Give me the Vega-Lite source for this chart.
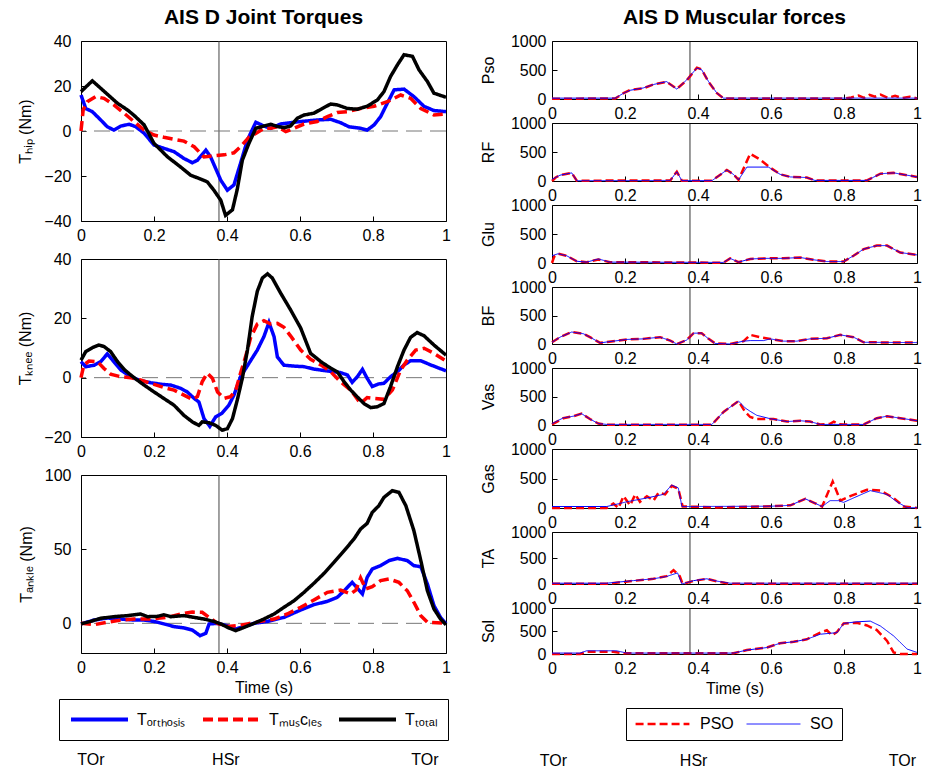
{
"$schema": "https://vega.github.io/schema/vega-lite/v6.json",
"padding": {"left": 17, "top": 6, "right": 5, "bottom": 5},
"config": {
  "font": "Liberation Sans",
  "view": {"stroke": "black", "strokeWidth": 1},
  "axis": {"grid": false, "domain": false, "tickColor": "black", "tickSize": -5, "labelFontSize": 16, "labelColor": "black", "titleFontSize": 16, "titleFontWeight": "normal", "titleColor": "black", "labelPadding": 11, "labelFlush": false},
  "axisY": {"labelPadding": 15, "titlePadding": 10},
  "axisX": {"titlePadding": 4},
  "title": {"fontSize": 21, "fontWeight": "bold", "color": "black", "anchor": "middle", "frame": "group", "offset": 5}
},
"datasets": {
  "ref": [{"t": 0.378, "z": 0}],
  "evL": [{"t": 0.027, "label": "TOr"}, {"t": 0.397, "label": "HSr"}, {"t": 0.942, "label": "TOr"}],
  "evR": [{"t": 0.004, "label": "TOr"}, {"t": 0.388, "label": "HSr"}, {"t": 0.96, "label": "TOr"}],
  "torque": [
{"p":"hip","s":"orthosis","t":0,"v":16},{"p":"hip","s":"orthosis","t":0.013,"v":10},{"p":"hip","s":"orthosis","t":0.031,"v":8.6},{"p":"hip","s":"orthosis","t":0.054,"v":4.9},{"p":"hip","s":"orthosis","t":0.072,"v":1.9},{"p":"hip","s":"orthosis","t":0.09,"v":0.4},{"p":"hip","s":"orthosis","t":0.109,"v":2.2},{"p":"hip","s":"orthosis","t":0.132,"v":3},{"p":"hip","s":"orthosis","t":0.15,"v":1.9},{"p":"hip","s":"orthosis","t":0.173,"v":-1},{"p":"hip","s":"orthosis","t":0.2,"v":-6.2},{"p":"hip","s":"orthosis","t":0.227,"v":-7.7},{"p":"hip","s":"orthosis","t":0.255,"v":-9.2},{"p":"hip","s":"orthosis","t":0.282,"v":-12.2},{"p":"hip","s":"orthosis","t":0.305,"v":-14.1},{"p":"hip","s":"orthosis","t":0.319,"v":-13},{"p":"hip","s":"orthosis","t":0.342,"v":-8.5},{"p":"hip","s":"orthosis","t":0.355,"v":-11.5},{"p":"hip","s":"orthosis","t":0.383,"v":-21.9},{"p":"hip","s":"orthosis","t":0.401,"v":-26.3},{"p":"hip","s":"orthosis","t":0.419,"v":-24},{"p":"hip","s":"orthosis","t":0.437,"v":-14.4},{"p":"hip","s":"orthosis","t":0.456,"v":-4},{"p":"hip","s":"orthosis","t":0.479,"v":3.9},{"p":"hip","s":"orthosis","t":0.501,"v":2.2},{"p":"hip","s":"orthosis","t":0.52,"v":1.2},{"p":"hip","s":"orthosis","t":0.547,"v":3.1},{"p":"hip","s":"orthosis","t":0.574,"v":3.7},{"p":"hip","s":"orthosis","t":0.602,"v":4.2},{"p":"hip","s":"orthosis","t":0.647,"v":4.9},{"p":"hip","s":"orthosis","t":0.684,"v":5.2},{"p":"hip","s":"orthosis","t":0.711,"v":3.7},{"p":"hip","s":"orthosis","t":0.734,"v":1.9},{"p":"hip","s":"orthosis","t":0.766,"v":1.2},{"p":"hip","s":"orthosis","t":0.784,"v":0.4},{"p":"hip","s":"orthosis","t":0.803,"v":2.7},{"p":"hip","s":"orthosis","t":0.821,"v":6.4},{"p":"hip","s":"orthosis","t":0.839,"v":12.3},{"p":"hip","s":"orthosis","t":0.858,"v":18.3},{"p":"hip","s":"orthosis","t":0.885,"v":18.6},{"p":"hip","s":"orthosis","t":0.912,"v":15.3},{"p":"hip","s":"orthosis","t":0.94,"v":10.9},{"p":"hip","s":"orthosis","t":0.967,"v":9.1},{"p":"hip","s":"orthosis","t":1,"v":8.6},
{"p":"hip","s":"muscles","t":0,"v":0},{"p":"hip","s":"muscles","t":0.006,"v":9.4},{"p":"hip","s":"muscles","t":0.017,"v":13},{"p":"hip","s":"muscles","t":0.04,"v":15.3},{"p":"hip","s":"muscles","t":0.063,"v":14.5},{"p":"hip","s":"muscles","t":0.09,"v":11.6},{"p":"hip","s":"muscles","t":0.118,"v":7.9},{"p":"hip","s":"muscles","t":0.145,"v":4.2},{"p":"hip","s":"muscles","t":0.173,"v":0.4},{"p":"hip","s":"muscles","t":0.2,"v":-1.8},{"p":"hip","s":"muscles","t":0.227,"v":-2.8},{"p":"hip","s":"muscles","t":0.255,"v":-3.7},{"p":"hip","s":"muscles","t":0.282,"v":-4.5},{"p":"hip","s":"muscles","t":0.31,"v":-7},{"p":"hip","s":"muscles","t":0.337,"v":-11.5},{"p":"hip","s":"muscles","t":0.364,"v":-11},{"p":"hip","s":"muscles","t":0.392,"v":-10.6},{"p":"hip","s":"muscles","t":0.419,"v":-9.7},{"p":"hip","s":"muscles","t":0.437,"v":-7},{"p":"hip","s":"muscles","t":0.46,"v":-2.8},{"p":"hip","s":"muscles","t":0.483,"v":-0.7},{"p":"hip","s":"muscles","t":0.501,"v":1.2},{"p":"hip","s":"muscles","t":0.52,"v":1.2},{"p":"hip","s":"muscles","t":0.538,"v":1.9},{"p":"hip","s":"muscles","t":0.561,"v":-0.3},{"p":"hip","s":"muscles","t":0.584,"v":1.2},{"p":"hip","s":"muscles","t":0.611,"v":3.1},{"p":"hip","s":"muscles","t":0.647,"v":4.2},{"p":"hip","s":"muscles","t":0.675,"v":6.4},{"p":"hip","s":"muscles","t":0.702,"v":8.2},{"p":"hip","s":"muscles","t":0.73,"v":8.6},{"p":"hip","s":"muscles","t":0.766,"v":10},{"p":"hip","s":"muscles","t":0.803,"v":11},{"p":"hip","s":"muscles","t":0.839,"v":13},{"p":"hip","s":"muscles","t":0.876,"v":16},{"p":"hip","s":"muscles","t":0.903,"v":14.5},{"p":"hip","s":"muscles","t":0.931,"v":10},{"p":"hip","s":"muscles","t":0.967,"v":7.1},{"p":"hip","s":"muscles","t":1,"v":7.5},
{"p":"hip","s":"Total","t":0,"v":17.5},{"p":"hip","s":"Total","t":0.031,"v":22.3},{"p":"hip","s":"Total","t":0.054,"v":19},{"p":"hip","s":"Total","t":0.1,"v":12.3},{"p":"hip","s":"Total","t":0.127,"v":9.4},{"p":"hip","s":"Total","t":0.145,"v":7},{"p":"hip","s":"Total","t":0.173,"v":2.7},{"p":"hip","s":"Total","t":0.2,"v":-5.5},{"p":"hip","s":"Total","t":0.237,"v":-11.5},{"p":"hip","s":"Total","t":0.273,"v":-16},{"p":"hip","s":"Total","t":0.3,"v":-19.6},{"p":"hip","s":"Total","t":0.328,"v":-21.4},{"p":"hip","s":"Total","t":0.346,"v":-22.6},{"p":"hip","s":"Total","t":0.364,"v":-26.3},{"p":"hip","s":"Total","t":0.383,"v":-30.8},{"p":"hip","s":"Total","t":0.396,"v":-37.5},{"p":"hip","s":"Total","t":0.415,"v":-35},{"p":"hip","s":"Total","t":0.428,"v":-26},{"p":"hip","s":"Total","t":0.442,"v":-13},{"p":"hip","s":"Total","t":0.46,"v":-5.5},{"p":"hip","s":"Total","t":0.479,"v":1.2},{"p":"hip","s":"Total","t":0.501,"v":2.2},{"p":"hip","s":"Total","t":0.52,"v":3},{"p":"hip","s":"Total","t":0.538,"v":2},{"p":"hip","s":"Total","t":0.556,"v":1.5},{"p":"hip","s":"Total","t":0.574,"v":2.2},{"p":"hip","s":"Total","t":0.593,"v":5.7},{"p":"hip","s":"Total","t":0.611,"v":7.1},{"p":"hip","s":"Total","t":0.638,"v":7.9},{"p":"hip","s":"Total","t":0.661,"v":10},{"p":"hip","s":"Total","t":0.684,"v":12},{"p":"hip","s":"Total","t":0.702,"v":11.6},{"p":"hip","s":"Total","t":0.73,"v":10},{"p":"hip","s":"Total","t":0.757,"v":9.7},{"p":"hip","s":"Total","t":0.784,"v":11},{"p":"hip","s":"Total","t":0.812,"v":13.8},{"p":"hip","s":"Total","t":0.83,"v":17.5},{"p":"hip","s":"Total","t":0.848,"v":24.2},{"p":"hip","s":"Total","t":0.867,"v":29.4},{"p":"hip","s":"Total","t":0.885,"v":33.9},{"p":"hip","s":"Total","t":0.908,"v":33.2},{"p":"hip","s":"Total","t":0.926,"v":27.2},{"p":"hip","s":"Total","t":0.949,"v":22},{"p":"hip","s":"Total","t":0.967,"v":16.8},{"p":"hip","s":"Total","t":1,"v":15},
{"p":"knee","s":"orthosis","t":0,"v":5.4},{"p":"knee","s":"orthosis","t":0.013,"v":3.7},{"p":"knee","s":"orthosis","t":0.036,"v":4.2},{"p":"knee","s":"orthosis","t":0.054,"v":5.4},{"p":"knee","s":"orthosis","t":0.072,"v":8},{"p":"knee","s":"orthosis","t":0.09,"v":5.4},{"p":"knee","s":"orthosis","t":0.109,"v":2.6},{"p":"knee","s":"orthosis","t":0.136,"v":0.3},{"p":"knee","s":"orthosis","t":0.163,"v":-1},{"p":"knee","s":"orthosis","t":0.191,"v":-1.7},{"p":"knee","s":"orthosis","t":0.218,"v":-2.2},{"p":"knee","s":"orthosis","t":0.246,"v":-2.5},{"p":"knee","s":"orthosis","t":0.273,"v":-3.6},{"p":"knee","s":"orthosis","t":0.291,"v":-4.8},{"p":"knee","s":"orthosis","t":0.31,"v":-7},{"p":"knee","s":"orthosis","t":0.323,"v":-8.2},{"p":"knee","s":"orthosis","t":0.337,"v":-13.8},{"p":"knee","s":"orthosis","t":0.353,"v":-16.4},{"p":"knee","s":"orthosis","t":0.369,"v":-13.2},{"p":"knee","s":"orthosis","t":0.387,"v":-11.9},{"p":"knee","s":"orthosis","t":0.405,"v":-9.3},{"p":"knee","s":"orthosis","t":0.419,"v":-5.9},{"p":"knee","s":"orthosis","t":0.437,"v":0.3},{"p":"knee","s":"orthosis","t":0.46,"v":4.8},{"p":"knee","s":"orthosis","t":0.483,"v":9.3},{"p":"knee","s":"orthosis","t":0.501,"v":13.8},{"p":"knee","s":"orthosis","t":0.515,"v":18.6},{"p":"knee","s":"orthosis","t":0.529,"v":13.8},{"p":"knee","s":"orthosis","t":0.538,"v":7},{"p":"knee","s":"orthosis","t":0.556,"v":4.2},{"p":"knee","s":"orthosis","t":0.584,"v":3.9},{"p":"knee","s":"orthosis","t":0.611,"v":3.7},{"p":"knee","s":"orthosis","t":0.638,"v":2.9},{"p":"knee","s":"orthosis","t":0.666,"v":2.4},{"p":"knee","s":"orthosis","t":0.693,"v":2},{"p":"knee","s":"orthosis","t":0.711,"v":1.7},{"p":"knee","s":"orthosis","t":0.73,"v":0.9},{"p":"knee","s":"orthosis","t":0.743,"v":-1.6},{"p":"knee","s":"orthosis","t":0.757,"v":0.3},{"p":"knee","s":"orthosis","t":0.771,"v":2.8},{"p":"knee","s":"orthosis","t":0.784,"v":-0.2},{"p":"knee","s":"orthosis","t":0.798,"v":-3},{"p":"knee","s":"orthosis","t":0.816,"v":-2.1},{"p":"knee","s":"orthosis","t":0.83,"v":-1.9},{"p":"knee","s":"orthosis","t":0.848,"v":0.3},{"p":"knee","s":"orthosis","t":0.867,"v":2},{"p":"knee","s":"orthosis","t":0.885,"v":4.3},{"p":"knee","s":"orthosis","t":0.903,"v":5.7},{"p":"knee","s":"orthosis","t":0.931,"v":5.7},{"p":"knee","s":"orthosis","t":0.958,"v":4.3},{"p":"knee","s":"orthosis","t":1,"v":2.3},
{"p":"knee","s":"muscles","t":0,"v":0},{"p":"knee","s":"muscles","t":0.008,"v":4.3},{"p":"knee","s":"muscles","t":0.022,"v":5.6},{"p":"knee","s":"muscles","t":0.045,"v":5.4},{"p":"knee","s":"muscles","t":0.063,"v":3.1},{"p":"knee","s":"muscles","t":0.081,"v":1.2},{"p":"knee","s":"muscles","t":0.109,"v":0.3},{"p":"knee","s":"muscles","t":0.136,"v":0},{"p":"knee","s":"muscles","t":0.163,"v":-0.8},{"p":"knee","s":"muscles","t":0.191,"v":-1.9},{"p":"knee","s":"muscles","t":0.227,"v":-3.3},{"p":"knee","s":"muscles","t":0.255,"v":-4.2},{"p":"knee","s":"muscles","t":0.282,"v":-5.9},{"p":"knee","s":"muscles","t":0.305,"v":-7.3},{"p":"knee","s":"muscles","t":0.319,"v":-6.4},{"p":"knee","s":"muscles","t":0.332,"v":-1.4},{"p":"knee","s":"muscles","t":0.346,"v":1.5},{"p":"knee","s":"muscles","t":0.36,"v":-0.2},{"p":"knee","s":"muscles","t":0.374,"v":-4.8},{"p":"knee","s":"muscles","t":0.392,"v":-7},{"p":"knee","s":"muscles","t":0.41,"v":-6.4},{"p":"knee","s":"muscles","t":0.424,"v":-4.2},{"p":"knee","s":"muscles","t":0.437,"v":1.5},{"p":"knee","s":"muscles","t":0.451,"v":7.1},{"p":"knee","s":"muscles","t":0.465,"v":13.6},{"p":"knee","s":"muscles","t":0.483,"v":18.1},{"p":"knee","s":"muscles","t":0.501,"v":19.2},{"p":"knee","s":"muscles","t":0.52,"v":18.1},{"p":"knee","s":"muscles","t":0.538,"v":18.3},{"p":"knee","s":"muscles","t":0.556,"v":17},{"p":"knee","s":"muscles","t":0.574,"v":14.1},{"p":"knee","s":"muscles","t":0.602,"v":9.3},{"p":"knee","s":"muscles","t":0.629,"v":6.2},{"p":"knee","s":"muscles","t":0.657,"v":4.3},{"p":"knee","s":"muscles","t":0.684,"v":2},{"p":"knee","s":"muscles","t":0.711,"v":-1.4},{"p":"knee","s":"muscles","t":0.739,"v":-4.2},{"p":"knee","s":"muscles","t":0.766,"v":-8.7},{"p":"knee","s":"muscles","t":0.784,"v":-6.7},{"p":"knee","s":"muscles","t":0.803,"v":-7},{"p":"knee","s":"muscles","t":0.83,"v":-7.3},{"p":"knee","s":"muscles","t":0.853,"v":-4.2},{"p":"knee","s":"muscles","t":0.876,"v":2.6},{"p":"knee","s":"muscles","t":0.894,"v":5.9},{"p":"knee","s":"muscles","t":0.917,"v":9.3},{"p":"knee","s":"muscles","t":0.94,"v":9.9},{"p":"knee","s":"muscles","t":0.967,"v":8.2},{"p":"knee","s":"muscles","t":1,"v":5.6},
{"p":"knee","s":"Total","t":0,"v":5.9},{"p":"knee","s":"Total","t":0.013,"v":8.8},{"p":"knee","s":"Total","t":0.031,"v":10.1},{"p":"knee","s":"Total","t":0.049,"v":11},{"p":"knee","s":"Total","t":0.063,"v":10.5},{"p":"knee","s":"Total","t":0.081,"v":8.8},{"p":"knee","s":"Total","t":0.1,"v":5.4},{"p":"knee","s":"Total","t":0.118,"v":2.8},{"p":"knee","s":"Total","t":0.136,"v":0.9},{"p":"knee","s":"Total","t":0.154,"v":-0.8},{"p":"knee","s":"Total","t":0.173,"v":-2.5},{"p":"knee","s":"Total","t":0.2,"v":-4.8},{"p":"knee","s":"Total","t":0.227,"v":-7},{"p":"knee","s":"Total","t":0.255,"v":-9.3},{"p":"knee","s":"Total","t":0.282,"v":-12.7},{"p":"knee","s":"Total","t":0.305,"v":-14.9},{"p":"knee","s":"Total","t":0.323,"v":-16.1},{"p":"knee","s":"Total","t":0.332,"v":-14.9},{"p":"knee","s":"Total","t":0.351,"v":-15.2},{"p":"knee","s":"Total","t":0.369,"v":-16.1},{"p":"knee","s":"Total","t":0.387,"v":-17.7},{"p":"knee","s":"Total","t":0.401,"v":-17.2},{"p":"knee","s":"Total","t":0.415,"v":-13.8},{"p":"knee","s":"Total","t":0.428,"v":-7.6},{"p":"knee","s":"Total","t":0.442,"v":-0.2},{"p":"knee","s":"Total","t":0.456,"v":9.3},{"p":"knee","s":"Total","t":0.469,"v":20.6},{"p":"knee","s":"Total","t":0.483,"v":29.1},{"p":"knee","s":"Total","t":0.497,"v":33.6},{"p":"knee","s":"Total","t":0.511,"v":35},{"p":"knee","s":"Total","t":0.524,"v":33.6},{"p":"knee","s":"Total","t":0.547,"v":28.5},{"p":"knee","s":"Total","t":0.574,"v":22.9},{"p":"knee","s":"Total","t":0.602,"v":16.7},{"p":"knee","s":"Total","t":0.629,"v":8.2},{"p":"knee","s":"Total","t":0.657,"v":5.4},{"p":"knee","s":"Total","t":0.684,"v":3.2},{"p":"knee","s":"Total","t":0.702,"v":2},{"p":"knee","s":"Total","t":0.721,"v":-1.4},{"p":"knee","s":"Total","t":0.739,"v":-4.2},{"p":"knee","s":"Total","t":0.757,"v":-6.5},{"p":"knee","s":"Total","t":0.775,"v":-8.7},{"p":"knee","s":"Total","t":0.794,"v":-10.1},{"p":"knee","s":"Total","t":0.812,"v":-9.8},{"p":"knee","s":"Total","t":0.83,"v":-8.7},{"p":"knee","s":"Total","t":0.848,"v":-3},{"p":"knee","s":"Total","t":0.867,"v":3.7},{"p":"knee","s":"Total","t":0.885,"v":9.3},{"p":"knee","s":"Total","t":0.903,"v":13.6},{"p":"knee","s":"Total","t":0.921,"v":15.2},{"p":"knee","s":"Total","t":0.94,"v":14.1},{"p":"knee","s":"Total","t":0.967,"v":11},{"p":"knee","s":"Total","t":1,"v":7.6},
{"p":"ankle","s":"orthosis","t":0,"v":-0.4},{"p":"ankle","s":"orthosis","t":0.036,"v":2.2},{"p":"ankle","s":"orthosis","t":0.072,"v":3.6},{"p":"ankle","s":"orthosis","t":0.109,"v":2.9},{"p":"ankle","s":"orthosis","t":0.145,"v":2.2},{"p":"ankle","s":"orthosis","t":0.173,"v":2.2},{"p":"ankle","s":"orthosis","t":0.2,"v":1.3},{"p":"ankle","s":"orthosis","t":0.227,"v":-0.4},{"p":"ankle","s":"orthosis","t":0.255,"v":-2.2},{"p":"ankle","s":"orthosis","t":0.282,"v":-3.1},{"p":"ankle","s":"orthosis","t":0.305,"v":-4.5},{"p":"ankle","s":"orthosis","t":0.326,"v":-8.3},{"p":"ankle","s":"orthosis","t":0.342,"v":-6.7},{"p":"ankle","s":"orthosis","t":0.351,"v":-0.4},{"p":"ankle","s":"orthosis","t":0.374,"v":0},{"p":"ankle","s":"orthosis","t":0.401,"v":-1.6},{"p":"ankle","s":"orthosis","t":0.424,"v":-3.8},{"p":"ankle","s":"orthosis","t":0.447,"v":-2.2},{"p":"ankle","s":"orthosis","t":0.474,"v":0},{"p":"ankle","s":"orthosis","t":0.511,"v":1.3},{"p":"ankle","s":"orthosis","t":0.556,"v":4},{"p":"ankle","s":"orthosis","t":0.602,"v":9},{"p":"ankle","s":"orthosis","t":0.638,"v":12.6},{"p":"ankle","s":"orthosis","t":0.675,"v":14.8},{"p":"ankle","s":"orthosis","t":0.702,"v":17.5},{"p":"ankle","s":"orthosis","t":0.721,"v":22},{"p":"ankle","s":"orthosis","t":0.743,"v":27.6},{"p":"ankle","s":"orthosis","t":0.757,"v":23.8},{"p":"ankle","s":"orthosis","t":0.771,"v":19.8},{"p":"ankle","s":"orthosis","t":0.784,"v":31},{"p":"ankle","s":"orthosis","t":0.798,"v":36.6},{"p":"ankle","s":"orthosis","t":0.821,"v":38.9},{"p":"ankle","s":"orthosis","t":0.844,"v":42.3},{"p":"ankle","s":"orthosis","t":0.867,"v":43.8},{"p":"ankle","s":"orthosis","t":0.894,"v":42.3},{"p":"ankle","s":"orthosis","t":0.912,"v":38.9},{"p":"ankle","s":"orthosis","t":0.931,"v":38.2},{"p":"ankle","s":"orthosis","t":0.949,"v":26.5},{"p":"ankle","s":"orthosis","t":0.967,"v":11.9},{"p":"ankle","s":"orthosis","t":0.985,"v":4},{"p":"ankle","s":"orthosis","t":1,"v":-0.4},
{"p":"ankle","s":"muscles","t":0,"v":0},{"p":"ankle","s":"muscles","t":0.036,"v":-0.9},{"p":"ankle","s":"muscles","t":0.072,"v":0.7},{"p":"ankle","s":"muscles","t":0.109,"v":2.2},{"p":"ankle","s":"muscles","t":0.145,"v":2.9},{"p":"ankle","s":"muscles","t":0.191,"v":2.9},{"p":"ankle","s":"muscles","t":0.237,"v":4},{"p":"ankle","s":"muscles","t":0.273,"v":6.3},{"p":"ankle","s":"muscles","t":0.305,"v":7.6},{"p":"ankle","s":"muscles","t":0.332,"v":7.4},{"p":"ankle","s":"muscles","t":0.351,"v":4},{"p":"ankle","s":"muscles","t":0.374,"v":0},{"p":"ankle","s":"muscles","t":0.401,"v":-2.2},{"p":"ankle","s":"muscles","t":0.428,"v":-1.6},{"p":"ankle","s":"muscles","t":0.456,"v":-0.4},{"p":"ankle","s":"muscles","t":0.492,"v":1.3},{"p":"ankle","s":"muscles","t":0.529,"v":2.9},{"p":"ankle","s":"muscles","t":0.565,"v":6.3},{"p":"ankle","s":"muscles","t":0.602,"v":10.8},{"p":"ankle","s":"muscles","t":0.638,"v":15.7},{"p":"ankle","s":"muscles","t":0.675,"v":20.9},{"p":"ankle","s":"muscles","t":0.711,"v":22.4},{"p":"ankle","s":"muscles","t":0.739,"v":19.8},{"p":"ankle","s":"muscles","t":0.753,"v":22.4},{"p":"ankle","s":"muscles","t":0.766,"v":30.6},{"p":"ankle","s":"muscles","t":0.78,"v":23.2},{"p":"ankle","s":"muscles","t":0.798,"v":24.7},{"p":"ankle","s":"muscles","t":0.821,"v":28.8},{"p":"ankle","s":"muscles","t":0.844,"v":29.9},{"p":"ankle","s":"muscles","t":0.871,"v":27.6},{"p":"ankle","s":"muscles","t":0.894,"v":22},{"p":"ankle","s":"muscles","t":0.912,"v":14.2},{"p":"ankle","s":"muscles","t":0.931,"v":5.2},{"p":"ankle","s":"muscles","t":0.949,"v":0.7},{"p":"ankle","s":"muscles","t":1,"v":0},
{"p":"ankle","s":"Total","t":0,"v":-0.4},{"p":"ankle","s":"Total","t":0.026,"v":1.3},{"p":"ankle","s":"Total","t":0.054,"v":3.4},{"p":"ankle","s":"Total","t":0.09,"v":4.5},{"p":"ankle","s":"Total","t":0.127,"v":5.2},{"p":"ankle","s":"Total","t":0.163,"v":6.3},{"p":"ankle","s":"Total","t":0.182,"v":4.5},{"p":"ankle","s":"Total","t":0.209,"v":4.7},{"p":"ankle","s":"Total","t":0.227,"v":5.8},{"p":"ankle","s":"Total","t":0.246,"v":4.5},{"p":"ankle","s":"Total","t":0.282,"v":5.2},{"p":"ankle","s":"Total","t":0.31,"v":4},{"p":"ankle","s":"Total","t":0.337,"v":2.9},{"p":"ankle","s":"Total","t":0.364,"v":1.3},{"p":"ankle","s":"Total","t":0.383,"v":-0.4},{"p":"ankle","s":"Total","t":0.405,"v":-3.1},{"p":"ankle","s":"Total","t":0.424,"v":-4.9},{"p":"ankle","s":"Total","t":0.447,"v":-2.7},{"p":"ankle","s":"Total","t":0.474,"v":0},{"p":"ankle","s":"Total","t":0.501,"v":2.9},{"p":"ankle","s":"Total","t":0.529,"v":6.3},{"p":"ankle","s":"Total","t":0.556,"v":10.8},{"p":"ankle","s":"Total","t":0.584,"v":15.3},{"p":"ankle","s":"Total","t":0.611,"v":20.9},{"p":"ankle","s":"Total","t":0.638,"v":27},{"p":"ankle","s":"Total","t":0.666,"v":33.7},{"p":"ankle","s":"Total","t":0.693,"v":41.1},{"p":"ankle","s":"Total","t":0.721,"v":49},{"p":"ankle","s":"Total","t":0.748,"v":56.9},{"p":"ankle","s":"Total","t":0.766,"v":63.6},{"p":"ankle","s":"Total","t":0.784,"v":67.4},{"p":"ankle","s":"Total","t":0.798,"v":74.8},{"p":"ankle","s":"Total","t":0.816,"v":79.3},{"p":"ankle","s":"Total","t":0.83,"v":84.9},{"p":"ankle","s":"Total","t":0.853,"v":89.4},{"p":"ankle","s":"Total","t":0.871,"v":88.3},{"p":"ankle","s":"Total","t":0.89,"v":79.3},{"p":"ankle","s":"Total","t":0.912,"v":62.5},{"p":"ankle","s":"Total","t":0.931,"v":42.3},{"p":"ankle","s":"Total","t":0.949,"v":22},{"p":"ankle","s":"Total","t":0.967,"v":9.7},{"p":"ankle","s":"Total","t":0.985,"v":2.9},{"p":"ankle","s":"Total","t":1,"v":-0.9}
  ],
  "force": [
{"m":"Pso","s":"PSO","t":0,"v":5},{"m":"Pso","s":"PSO","t":0.173,"v":8},{"m":"Pso","s":"PSO","t":0.196,"v":100},{"m":"Pso","s":"PSO","t":0.214,"v":155},{"m":"Pso","s":"PSO","t":0.25,"v":185},{"m":"Pso","s":"PSO","t":0.278,"v":250},{"m":"Pso","s":"PSO","t":0.314,"v":295},{"m":"Pso","s":"PSO","t":0.342,"v":175},{"m":"Pso","s":"PSO","t":0.369,"v":320},{"m":"Pso","s":"PSO","t":0.397,"v":540},{"m":"Pso","s":"PSO","t":0.41,"v":510},{"m":"Pso","s":"PSO","t":0.429,"v":295},{"m":"Pso","s":"PSO","t":0.452,"v":100},{"m":"Pso","s":"PSO","t":0.47,"v":10},{"m":"Pso","s":"PSO","t":0.8,"v":10},{"m":"Pso","s":"PSO","t":0.82,"v":25},{"m":"Pso","s":"PSO","t":0.84,"v":60},{"m":"Pso","s":"PSO","t":0.855,"v":20},{"m":"Pso","s":"PSO","t":0.87,"v":70},{"m":"Pso","s":"PSO","t":0.885,"v":40},{"m":"Pso","s":"PSO","t":0.9,"v":75},{"m":"Pso","s":"PSO","t":0.92,"v":20},{"m":"Pso","s":"PSO","t":0.94,"v":55},{"m":"Pso","s":"PSO","t":0.96,"v":15},{"m":"Pso","s":"PSO","t":0.98,"v":40},{"m":"Pso","s":"PSO","t":1,"v":10},
{"m":"Pso","s":"SO","t":0,"v":15},{"m":"Pso","s":"SO","t":0.173,"v":15},{"m":"Pso","s":"SO","t":0.196,"v":100},{"m":"Pso","s":"SO","t":0.214,"v":150},{"m":"Pso","s":"SO","t":0.25,"v":190},{"m":"Pso","s":"SO","t":0.278,"v":250},{"m":"Pso","s":"SO","t":0.314,"v":300},{"m":"Pso","s":"SO","t":0.342,"v":170},{"m":"Pso","s":"SO","t":0.369,"v":330},{"m":"Pso","s":"SO","t":0.397,"v":535},{"m":"Pso","s":"SO","t":0.41,"v":505},{"m":"Pso","s":"SO","t":0.429,"v":300},{"m":"Pso","s":"SO","t":0.452,"v":100},{"m":"Pso","s":"SO","t":0.47,"v":15},{"m":"Pso","s":"SO","t":1,"v":15},
{"m":"RF","s":"PSO","t":0,"v":0},{"m":"RF","s":"PSO","t":0.01,"v":60},{"m":"RF","s":"PSO","t":0.022,"v":100},{"m":"RF","s":"PSO","t":0.054,"v":140},{"m":"RF","s":"PSO","t":0.068,"v":5},{"m":"RF","s":"PSO","t":0.324,"v":10},{"m":"RF","s":"PSO","t":0.342,"v":160},{"m":"RF","s":"PSO","t":0.356,"v":5},{"m":"RF","s":"PSO","t":0.438,"v":5},{"m":"RF","s":"PSO","t":0.479,"v":190},{"m":"RF","s":"PSO","t":0.497,"v":115},{"m":"RF","s":"PSO","t":0.511,"v":20},{"m":"RF","s":"PSO","t":0.543,"v":470},{"m":"RF","s":"PSO","t":0.57,"v":370},{"m":"RF","s":"PSO","t":0.598,"v":230},{"m":"RF","s":"PSO","t":0.625,"v":115},{"m":"RF","s":"PSO","t":0.653,"v":70},{"m":"RF","s":"PSO","t":0.698,"v":60},{"m":"RF","s":"PSO","t":0.72,"v":10},{"m":"RF","s":"PSO","t":0.863,"v":10},{"m":"RF","s":"PSO","t":0.9,"v":125},{"m":"RF","s":"PSO","t":0.936,"v":140},{"m":"RF","s":"PSO","t":0.973,"v":100},{"m":"RF","s":"PSO","t":1,"v":70},
{"m":"RF","s":"SO","t":0,"v":30},{"m":"RF","s":"SO","t":0.022,"v":100},{"m":"RF","s":"SO","t":0.054,"v":140},{"m":"RF","s":"SO","t":0.068,"v":5},{"m":"RF","s":"SO","t":0.324,"v":10},{"m":"RF","s":"SO","t":0.342,"v":160},{"m":"RF","s":"SO","t":0.356,"v":5},{"m":"RF","s":"SO","t":0.438,"v":5},{"m":"RF","s":"SO","t":0.479,"v":190},{"m":"RF","s":"SO","t":0.497,"v":115},{"m":"RF","s":"SO","t":0.511,"v":20},{"m":"RF","s":"SO","t":0.534,"v":240},{"m":"RF","s":"SO","t":0.593,"v":240},{"m":"RF","s":"SO","t":0.625,"v":115},{"m":"RF","s":"SO","t":0.653,"v":70},{"m":"RF","s":"SO","t":0.698,"v":60},{"m":"RF","s":"SO","t":0.72,"v":10},{"m":"RF","s":"SO","t":0.863,"v":10},{"m":"RF","s":"SO","t":0.9,"v":125},{"m":"RF","s":"SO","t":0.936,"v":140},{"m":"RF","s":"SO","t":0.973,"v":100},{"m":"RF","s":"SO","t":1,"v":70},
{"m":"Glu","s":"PSO","t":0,"v":0},{"m":"Glu","s":"PSO","t":0.006,"v":110},{"m":"Glu","s":"PSO","t":0.017,"v":160},{"m":"Glu","s":"PSO","t":0.04,"v":125},{"m":"Glu","s":"PSO","t":0.068,"v":30},{"m":"Glu","s":"PSO","t":0.095,"v":15},{"m":"Glu","s":"PSO","t":0.127,"v":60},{"m":"Glu","s":"PSO","t":0.159,"v":15},{"m":"Glu","s":"PSO","t":0.47,"v":5},{"m":"Glu","s":"PSO","t":0.488,"v":80},{"m":"Glu","s":"PSO","t":0.511,"v":15},{"m":"Glu","s":"PSO","t":0.543,"v":70},{"m":"Glu","s":"PSO","t":0.589,"v":80},{"m":"Glu","s":"PSO","t":0.634,"v":80},{"m":"Glu","s":"PSO","t":0.68,"v":95},{"m":"Glu","s":"PSO","t":0.717,"v":55},{"m":"Glu","s":"PSO","t":0.753,"v":25},{"m":"Glu","s":"PSO","t":0.799,"v":25},{"m":"Glu","s":"PSO","t":0.826,"v":125},{"m":"Glu","s":"PSO","t":0.854,"v":240},{"m":"Glu","s":"PSO","t":0.89,"v":300},{"m":"Glu","s":"PSO","t":0.918,"v":300},{"m":"Glu","s":"PSO","t":0.954,"v":180},{"m":"Glu","s":"PSO","t":1,"v":140},
{"m":"Glu","s":"SO","t":0,"v":125},{"m":"Glu","s":"SO","t":0.017,"v":160},{"m":"Glu","s":"SO","t":0.04,"v":125},{"m":"Glu","s":"SO","t":0.068,"v":30},{"m":"Glu","s":"SO","t":0.095,"v":15},{"m":"Glu","s":"SO","t":0.127,"v":70},{"m":"Glu","s":"SO","t":0.159,"v":15},{"m":"Glu","s":"SO","t":0.47,"v":10},{"m":"Glu","s":"SO","t":0.488,"v":80},{"m":"Glu","s":"SO","t":0.511,"v":15},{"m":"Glu","s":"SO","t":0.543,"v":70},{"m":"Glu","s":"SO","t":0.589,"v":80},{"m":"Glu","s":"SO","t":0.634,"v":80},{"m":"Glu","s":"SO","t":0.68,"v":95},{"m":"Glu","s":"SO","t":0.717,"v":55},{"m":"Glu","s":"SO","t":0.753,"v":25},{"m":"Glu","s":"SO","t":0.799,"v":25},{"m":"Glu","s":"SO","t":0.826,"v":125},{"m":"Glu","s":"SO","t":0.854,"v":240},{"m":"Glu","s":"SO","t":0.89,"v":300},{"m":"Glu","s":"SO","t":0.918,"v":300},{"m":"Glu","s":"SO","t":0.954,"v":180},{"m":"Glu","s":"SO","t":1,"v":140},
{"m":"BF","s":"PSO","t":0,"v":30},{"m":"BF","s":"PSO","t":0.022,"v":120},{"m":"BF","s":"PSO","t":0.054,"v":210},{"m":"BF","s":"PSO","t":0.086,"v":180},{"m":"BF","s":"PSO","t":0.104,"v":120},{"m":"BF","s":"PSO","t":0.132,"v":20},{"m":"BF","s":"PSO","t":0.168,"v":50},{"m":"BF","s":"PSO","t":0.205,"v":80},{"m":"BF","s":"PSO","t":0.25,"v":90},{"m":"BF","s":"PSO","t":0.296,"v":120},{"m":"BF","s":"PSO","t":0.324,"v":60},{"m":"BF","s":"PSO","t":0.342,"v":0},{"m":"BF","s":"PSO","t":0.369,"v":70},{"m":"BF","s":"PSO","t":0.388,"v":190},{"m":"BF","s":"PSO","t":0.41,"v":190},{"m":"BF","s":"PSO","t":0.429,"v":90},{"m":"BF","s":"PSO","t":0.447,"v":10},{"m":"BF","s":"PSO","t":0.488,"v":0},{"m":"BF","s":"PSO","t":0.525,"v":50},{"m":"BF","s":"PSO","t":0.543,"v":160},{"m":"BF","s":"PSO","t":0.57,"v":120},{"m":"BF","s":"PSO","t":0.598,"v":90},{"m":"BF","s":"PSO","t":0.634,"v":50},{"m":"BF","s":"PSO","t":0.671,"v":50},{"m":"BF","s":"PSO","t":0.707,"v":90},{"m":"BF","s":"PSO","t":0.753,"v":100},{"m":"BF","s":"PSO","t":0.79,"v":160},{"m":"BF","s":"PSO","t":0.826,"v":120},{"m":"BF","s":"PSO","t":0.854,"v":30},{"m":"BF","s":"PSO","t":1,"v":25},
{"m":"BF","s":"SO","t":0,"v":30},{"m":"BF","s":"SO","t":0.022,"v":120},{"m":"BF","s":"SO","t":0.054,"v":210},{"m":"BF","s":"SO","t":0.086,"v":180},{"m":"BF","s":"SO","t":0.104,"v":120},{"m":"BF","s":"SO","t":0.132,"v":20},{"m":"BF","s":"SO","t":0.168,"v":50},{"m":"BF","s":"SO","t":0.205,"v":80},{"m":"BF","s":"SO","t":0.25,"v":90},{"m":"BF","s":"SO","t":0.296,"v":120},{"m":"BF","s":"SO","t":0.324,"v":60},{"m":"BF","s":"SO","t":0.342,"v":0},{"m":"BF","s":"SO","t":0.369,"v":70},{"m":"BF","s":"SO","t":0.388,"v":190},{"m":"BF","s":"SO","t":0.41,"v":190},{"m":"BF","s":"SO","t":0.429,"v":90},{"m":"BF","s":"SO","t":0.447,"v":10},{"m":"BF","s":"SO","t":0.488,"v":0},{"m":"BF","s":"SO","t":0.525,"v":50},{"m":"BF","s":"SO","t":0.543,"v":60},{"m":"BF","s":"SO","t":0.58,"v":60},{"m":"BF","s":"SO","t":0.598,"v":90},{"m":"BF","s":"SO","t":0.634,"v":50},{"m":"BF","s":"SO","t":0.671,"v":50},{"m":"BF","s":"SO","t":0.707,"v":90},{"m":"BF","s":"SO","t":0.753,"v":100},{"m":"BF","s":"SO","t":0.79,"v":160},{"m":"BF","s":"SO","t":0.826,"v":120},{"m":"BF","s":"SO","t":0.854,"v":30},{"m":"BF","s":"SO","t":1,"v":25},
{"m":"Vas","s":"PSO","t":0,"v":10},{"m":"Vas","s":"PSO","t":0.031,"v":120},{"m":"Vas","s":"PSO","t":0.059,"v":155},{"m":"Vas","s":"PSO","t":0.081,"v":200},{"m":"Vas","s":"PSO","t":0.104,"v":105},{"m":"Vas","s":"PSO","t":0.127,"v":25},{"m":"Vas","s":"PSO","t":0.15,"v":5},{"m":"Vas","s":"PSO","t":0.438,"v":5},{"m":"Vas","s":"PSO","t":0.47,"v":230},{"m":"Vas","s":"PSO","t":0.497,"v":355},{"m":"Vas","s":"PSO","t":0.511,"v":420},{"m":"Vas","s":"PSO","t":0.529,"v":230},{"m":"Vas","s":"PSO","t":0.543,"v":140},{"m":"Vas","s":"PSO","t":0.561,"v":105},{"m":"Vas","s":"PSO","t":0.607,"v":105},{"m":"Vas","s":"PSO","t":0.644,"v":60},{"m":"Vas","s":"PSO","t":0.68,"v":75},{"m":"Vas","s":"PSO","t":0.707,"v":60},{"m":"Vas","s":"PSO","t":0.735,"v":10},{"m":"Vas","s":"PSO","t":0.762,"v":20},{"m":"Vas","s":"PSO","t":0.772,"v":60},{"m":"Vas","s":"PSO","t":0.785,"v":15},{"m":"Vas","s":"PSO","t":0.799,"v":10},{"m":"Vas","s":"PSO","t":0.854,"v":10},{"m":"Vas","s":"PSO","t":0.89,"v":120},{"m":"Vas","s":"PSO","t":0.918,"v":155},{"m":"Vas","s":"PSO","t":0.954,"v":120},{"m":"Vas","s":"PSO","t":1,"v":75},
{"m":"Vas","s":"SO","t":0,"v":25},{"m":"Vas","s":"SO","t":0.031,"v":125},{"m":"Vas","s":"SO","t":0.059,"v":155},{"m":"Vas","s":"SO","t":0.081,"v":200},{"m":"Vas","s":"SO","t":0.104,"v":105},{"m":"Vas","s":"SO","t":0.127,"v":25},{"m":"Vas","s":"SO","t":0.15,"v":10},{"m":"Vas","s":"SO","t":0.438,"v":10},{"m":"Vas","s":"SO","t":0.47,"v":230},{"m":"Vas","s":"SO","t":0.497,"v":355},{"m":"Vas","s":"SO","t":0.511,"v":420},{"m":"Vas","s":"SO","t":0.529,"v":300},{"m":"Vas","s":"SO","t":0.543,"v":240},{"m":"Vas","s":"SO","t":0.561,"v":170},{"m":"Vas","s":"SO","t":0.598,"v":110},{"m":"Vas","s":"SO","t":0.644,"v":60},{"m":"Vas","s":"SO","t":0.68,"v":75},{"m":"Vas","s":"SO","t":0.707,"v":60},{"m":"Vas","s":"SO","t":0.735,"v":10},{"m":"Vas","s":"SO","t":0.854,"v":10},{"m":"Vas","s":"SO","t":0.89,"v":120},{"m":"Vas","s":"SO","t":0.918,"v":155},{"m":"Vas","s":"SO","t":0.954,"v":120},{"m":"Vas","s":"SO","t":1,"v":75},
{"m":"Gas","s":"PSO","t":0,"v":0},{"m":"Gas","s":"PSO","t":0.15,"v":0},{"m":"Gas","s":"PSO","t":0.168,"v":75},{"m":"Gas","s":"PSO","t":0.182,"v":0},{"m":"Gas","s":"PSO","t":0.196,"v":200},{"m":"Gas","s":"PSO","t":0.214,"v":45},{"m":"Gas","s":"PSO","t":0.228,"v":230},{"m":"Gas","s":"PSO","t":0.241,"v":105},{"m":"Gas","s":"PSO","t":0.26,"v":200},{"m":"Gas","s":"PSO","t":0.278,"v":125},{"m":"Gas","s":"PSO","t":0.292,"v":260},{"m":"Gas","s":"PSO","t":0.31,"v":230},{"m":"Gas","s":"PSO","t":0.328,"v":375},{"m":"Gas","s":"PSO","t":0.346,"v":325},{"m":"Gas","s":"PSO","t":0.358,"v":25},{"m":"Gas","s":"PSO","t":0.4,"v":20},{"m":"Gas","s":"PSO","t":0.45,"v":10},{"m":"Gas","s":"PSO","t":0.5,"v":15},{"m":"Gas","s":"PSO","t":0.6,"v":30},{"m":"Gas","s":"PSO","t":0.653,"v":45},{"m":"Gas","s":"PSO","t":0.694,"v":155},{"m":"Gas","s":"PSO","t":0.721,"v":80},{"m":"Gas","s":"PSO","t":0.74,"v":25},{"m":"Gas","s":"PSO","t":0.769,"v":450},{"m":"Gas","s":"PSO","t":0.79,"v":125},{"m":"Gas","s":"PSO","t":0.817,"v":200},{"m":"Gas","s":"PSO","t":0.863,"v":310},{"m":"Gas","s":"PSO","t":0.9,"v":295},{"m":"Gas","s":"PSO","t":0.936,"v":170},{"m":"Gas","s":"PSO","t":0.963,"v":25},{"m":"Gas","s":"PSO","t":1,"v":0},
{"m":"Gas","s":"SO","t":0,"v":25},{"m":"Gas","s":"SO","t":0.15,"v":25},{"m":"Gas","s":"SO","t":0.205,"v":105},{"m":"Gas","s":"SO","t":0.26,"v":170},{"m":"Gas","s":"SO","t":0.305,"v":230},{"m":"Gas","s":"SO","t":0.328,"v":390},{"m":"Gas","s":"SO","t":0.346,"v":340},{"m":"Gas","s":"SO","t":0.356,"v":25},{"m":"Gas","s":"SO","t":0.6,"v":30},{"m":"Gas","s":"SO","t":0.653,"v":45},{"m":"Gas","s":"SO","t":0.694,"v":155},{"m":"Gas","s":"SO","t":0.721,"v":80},{"m":"Gas","s":"SO","t":0.74,"v":25},{"m":"Gas","s":"SO","t":0.762,"v":125},{"m":"Gas","s":"SO","t":0.785,"v":125},{"m":"Gas","s":"SO","t":0.799,"v":95},{"m":"Gas","s":"SO","t":0.826,"v":170},{"m":"Gas","s":"SO","t":0.872,"v":295},{"m":"Gas","s":"SO","t":0.918,"v":230},{"m":"Gas","s":"SO","t":0.945,"v":105},{"m":"Gas","s":"SO","t":0.973,"v":5},{"m":"Gas","s":"SO","t":1,"v":5},
{"m":"TA","s":"PSO","t":0,"v":5},{"m":"TA","s":"PSO","t":0.15,"v":5},{"m":"TA","s":"PSO","t":0.223,"v":60},{"m":"TA","s":"PSO","t":0.278,"v":100},{"m":"TA","s":"PSO","t":0.314,"v":150},{"m":"TA","s":"PSO","t":0.333,"v":267},{"m":"TA","s":"PSO","t":0.35,"v":150},{"m":"TA","s":"PSO","t":0.358,"v":0},{"m":"TA","s":"PSO","t":0.388,"v":60},{"m":"TA","s":"PSO","t":0.424,"v":100},{"m":"TA","s":"PSO","t":0.452,"v":50},{"m":"TA","s":"PSO","t":0.488,"v":5},{"m":"TA","s":"PSO","t":1,"v":5},
{"m":"TA","s":"SO","t":0,"v":15},{"m":"TA","s":"SO","t":0.15,"v":15},{"m":"TA","s":"SO","t":0.223,"v":65},{"m":"TA","s":"SO","t":0.278,"v":100},{"m":"TA","s":"SO","t":0.314,"v":145},{"m":"TA","s":"SO","t":0.344,"v":213},{"m":"TA","s":"SO","t":0.356,"v":0},{"m":"TA","s":"SO","t":0.388,"v":65},{"m":"TA","s":"SO","t":0.424,"v":100},{"m":"TA","s":"SO","t":0.452,"v":55},{"m":"TA","s":"SO","t":0.488,"v":15},{"m":"TA","s":"SO","t":1,"v":15},
{"m":"Sol","s":"PSO","t":0,"v":0},{"m":"Sol","s":"PSO","t":0.077,"v":0},{"m":"Sol","s":"PSO","t":0.095,"v":50},{"m":"Sol","s":"PSO","t":0.168,"v":50},{"m":"Sol","s":"PSO","t":0.196,"v":15},{"m":"Sol","s":"PSO","t":0.497,"v":15},{"m":"Sol","s":"PSO","t":0.534,"v":85},{"m":"Sol","s":"PSO","t":0.589,"v":140},{"m":"Sol","s":"PSO","t":0.625,"v":235},{"m":"Sol","s":"PSO","t":0.662,"v":265},{"m":"Sol","s":"PSO","t":0.698,"v":320},{"m":"Sol","s":"PSO","t":0.735,"v":465},{"m":"Sol","s":"PSO","t":0.753,"v":515},{"m":"Sol","s":"PSO","t":0.767,"v":407},{"m":"Sol","s":"PSO","t":0.781,"v":480},{"m":"Sol","s":"PSO","t":0.799,"v":665},{"m":"Sol","s":"PSO","t":0.835,"v":680},{"m":"Sol","s":"PSO","t":0.863,"v":620},{"m":"Sol","s":"PSO","t":0.89,"v":520},{"m":"Sol","s":"PSO","t":0.918,"v":285},{"m":"Sol","s":"PSO","t":0.936,"v":35},{"m":"Sol","s":"PSO","t":0.954,"v":0},{"m":"Sol","s":"PSO","t":1,"v":0},
{"m":"Sol","s":"SO","t":0,"v":20},{"m":"Sol","s":"SO","t":0.077,"v":20},{"m":"Sol","s":"SO","t":0.095,"v":70},{"m":"Sol","s":"SO","t":0.177,"v":70},{"m":"Sol","s":"SO","t":0.205,"v":20},{"m":"Sol","s":"SO","t":0.497,"v":20},{"m":"Sol","s":"SO","t":0.534,"v":85},{"m":"Sol","s":"SO","t":0.589,"v":140},{"m":"Sol","s":"SO","t":0.625,"v":235},{"m":"Sol","s":"SO","t":0.662,"v":265},{"m":"Sol","s":"SO","t":0.698,"v":320},{"m":"Sol","s":"SO","t":0.735,"v":430},{"m":"Sol","s":"SO","t":0.762,"v":450},{"m":"Sol","s":"SO","t":0.781,"v":465},{"m":"Sol","s":"SO","t":0.799,"v":665},{"m":"Sol","s":"SO","t":0.835,"v":700},{"m":"Sol","s":"SO","t":0.872,"v":715},{"m":"Sol","s":"SO","t":0.9,"v":607},{"m":"Sol","s":"SO","t":0.936,"v":393},{"m":"Sol","s":"SO","t":0.973,"v":107},{"m":"Sol","s":"SO","t":1,"v":35}
  ]
},
"hconcat": [
 {
  "spacing": 38,
  "bounds": "flush",
  "resolve": {"scale": {"color": "independent", "strokeDash": "independent"}},
  "vconcat": [
   {"width": 365, "height": 180, "title": {"text": "AIS D Joint Torques"}, "layer": [
     {"data": {"name": "ref"}, "mark": {"type": "rule", "color": "#444", "strokeWidth": 1}, "encoding": {"x": {"field": "t", "type": "quantitative", "scale": {"domain": [0, 1], "nice": false}, "axis": {"values": [0, 0.2, 0.4, 0.6, 0.8, 1], "format": "~g", "title": null}}}},
     {"data": {"name": "ref"}, "mark": {"type": "rule", "color": "#777", "strokeWidth": 1, "strokeDash": [16, 8]}, "encoding": {"y": {"field": "z", "type": "quantitative", "scale": {"domain": [-40, 40], "nice": false}, "axis": {"values": [-40, -20, 0, 20, 40], "title": "Tₕᵢₚ (Nm)"}}}},
     {"data": {"name": "torque"}, "transform": [{"filter": "datum.p === 'hip'"}], "mark": {"type": "line", "strokeWidth": 3.5},
      "encoding": {
       "x": {"field": "t", "type": "quantitative", "scale": {"domain": [0, 1], "nice": false}, "axis": {"values": [0, 0.2, 0.4, 0.6, 0.8, 1], "format": "~g", "title": null}},
       "y": {"field": "v", "type": "quantitative", "scale": {"domain": [-40, 40], "nice": false}, "axis": {"values": [-40, -20, 0, 20, 40], "title": "Tₕᵢₚ (Nm)"}},
       "color": {"field": "s", "type": "nominal", "scale": {"domain": ["orthosis", "muscles", "Total"], "range": ["#0000ff", "#ff0000", "#000000"]}, "legend": null},
       "strokeDash": {"field": "s", "type": "nominal", "scale": {"domain": ["orthosis", "muscles", "Total"], "range": [[1, 0], [10, 5], [1, 0]]}, "legend": null}
      }}
   ]},
   {"width": 365, "height": 178, "layer": [
     {"data": {"name": "ref"}, "mark": {"type": "rule", "color": "#444", "strokeWidth": 1}, "encoding": {"x": {"field": "t", "type": "quantitative", "scale": {"domain": [0, 1], "nice": false}, "axis": {"values": [0, 0.2, 0.4, 0.6, 0.8, 1], "format": "~g", "title": null}}}},
     {"data": {"name": "ref"}, "mark": {"type": "rule", "color": "#777", "strokeWidth": 1, "strokeDash": [16, 8]}, "encoding": {"y": {"field": "z", "type": "quantitative", "scale": {"domain": [-20, 40], "nice": false}, "axis": {"values": [-20, 0, 20, 40], "title": "Tₖₙₑₑ (Nm)"}}}},
     {"data": {"name": "torque"}, "transform": [{"filter": "datum.p === 'knee'"}], "mark": {"type": "line", "strokeWidth": 3.5},
      "encoding": {
       "x": {"field": "t", "type": "quantitative", "scale": {"domain": [0, 1], "nice": false}, "axis": {"values": [0, 0.2, 0.4, 0.6, 0.8, 1], "format": "~g", "title": null}},
       "y": {"field": "v", "type": "quantitative", "scale": {"domain": [-20, 40], "nice": false}, "axis": {"values": [-20, 0, 20, 40], "title": "Tₖₙₑₑ (Nm)"}},
       "color": {"field": "s", "type": "nominal", "scale": {"domain": ["orthosis", "muscles", "Total"], "range": ["#0000ff", "#ff0000", "#000000"]}, "legend": null},
       "strokeDash": {"field": "s", "type": "nominal", "scale": {"domain": ["orthosis", "muscles", "Total"], "range": [[1, 0], [10, 5], [1, 0]]}, "legend": null}
      }}
   ]},
   {"width": 365, "height": 178, "layer": [
     {"data": {"name": "ref"}, "mark": {"type": "rule", "color": "#444", "strokeWidth": 1}, "encoding": {"x": {"field": "t", "type": "quantitative", "scale": {"domain": [0, 1], "nice": false}, "axis": {"values": [0, 0.2, 0.4, 0.6, 0.8, 1], "format": "~g", "title": "Time (s)"}}}},
     {"data": {"name": "ref"}, "mark": {"type": "rule", "color": "#777", "strokeWidth": 1, "strokeDash": [16, 8]}, "encoding": {"y": {"field": "z", "type": "quantitative", "scale": {"domain": [-20, 100], "nice": false}, "axis": {"values": [0, 50, 100], "title": "Tₐₙₖₗₑ (Nm)"}}}},
     {"data": {"name": "torque"}, "transform": [{"filter": "datum.p === 'ankle'"}], "mark": {"type": "line", "strokeWidth": 3.5},
      "encoding": {
       "x": {"field": "t", "type": "quantitative", "scale": {"domain": [0, 1], "nice": false}, "axis": {"values": [0, 0.2, 0.4, 0.6, 0.8, 1], "format": "~g", "title": "Time (s)"}},
       "y": {"field": "v", "type": "quantitative", "scale": {"domain": [-20, 100], "nice": false}, "axis": {"values": [0, 50, 100], "title": "Tₐₙₖₗₑ (Nm)"}},
       "color": {"field": "s", "type": "nominal", "scale": {"domain": ["orthosis", "muscles", "Total"], "range": ["#0000ff", "#ff0000", "#000000"]},
         "legend": {"title": null, "orient": "none", "legendX": -22, "legendY": 224, "direction": "horizontal", "strokeColor": "black", "fillColor": "white", "padding": 10, "clipHeight": 21, "symbolType": "stroke", "symbolSize": 3249, "symbolStrokeWidth": 4, "labelFontSize": 16, "labelColor": "black", "labelOffset": 7, "columnPadding": 15, "labelExpr": "datum.label === 'orthosis' ? 'Tₒᵣₜₕₒₛᵢₛ' : datum.label === 'muscles' ? 'Tₘᵤₛcₗₑₛ' : 'Tₜₒₜₐₗ'"}},
       "strokeDash": {"field": "s", "type": "nominal", "scale": {"domain": ["orthosis", "muscles", "Total"], "range": [[1, 0], [10, 5], [1, 0]]},
         "legend": {"title": null, "orient": "none", "legendX": -22, "legendY": 224, "direction": "horizontal", "strokeColor": "black", "fillColor": "white", "padding": 10, "clipHeight": 21, "symbolType": "stroke", "symbolSize": 3249, "symbolStrokeWidth": 4, "labelFontSize": 16, "labelColor": "black", "labelOffset": 7, "columnPadding": 15, "labelExpr": "datum.label === 'orthosis' ? 'Tₒᵣₜₕₒₛᵢₛ' : datum.label === 'muscles' ? 'Tₘᵤₛcₗₑₛ' : 'Tₜₒₜₐₗ'"}}
      }}
   ]},
   {"width": 365, "height": 20, "view": {"stroke": null}, "data": {"name": "evL"}, "mark": {"type": "text", "fontSize": 16, "color": "black", "dy": 59},
    "encoding": {"x": {"field": "t", "type": "quantitative", "scale": {"domain": [0, 1]}, "axis": null}, "text": {"field": "label"}}}
  ]
 },
 {
  "spacing": 24,
  "bounds": "flush",
  "resolve": {"scale": {"color": "independent", "strokeDash": "independent", "strokeWidth": "independent"}},
  "vconcat": [
   {"width": 365, "height": 58, "title": {"text": "AIS D Muscular forces"}, "layer": [
     {"data": {"name": "ref"}, "mark": {"type": "rule", "color": "black", "strokeWidth": 0.8}, "encoding": {"x": {"field": "t", "type": "quantitative", "scale": {"domain": [0, 1], "nice": false}, "axis": {"values": [0, 0.2, 0.4, 0.6, 0.8, 1], "format": "~g", "title": null}}}},
     {"data": {"name": "force"}, "transform": [{"filter": "datum.m === 'Pso'"}], "mark": {"type": "line"},
      "encoding": {
       "x": {"field": "t", "type": "quantitative", "scale": {"domain": [0, 1], "nice": false}, "axis": {"values": [0, 0.2, 0.4, 0.6, 0.8, 1], "format": "~g", "title": null}},
       "y": {"field": "v", "type": "quantitative", "scale": {"domain": [0, 1000], "nice": false}, "axis": {"values": [0, 500, 1000], "format": "d", "title": "Pso", "labelPadding": 11, "titlePadding": 14}},
       "color": {"field": "s", "type": "nominal", "scale": {"domain": ["PSO", "SO"], "range": ["#ff0000", "#0000ff"]}, "legend": null},
       "strokeDash": {"field": "s", "type": "nominal", "scale": {"domain": ["PSO", "SO"], "range": [[8, 4], [1, 0]]}, "legend": null},
       "strokeWidth": {"field": "s", "type": "nominal", "scale": {"domain": ["PSO", "SO"], "range": [2.5, 1]}, "legend": null}
      }}
   ]},
   {"width": 365, "height": 58, "layer": [
     {"data": {"name": "ref"}, "mark": {"type": "rule", "color": "black", "strokeWidth": 0.8}, "encoding": {"x": {"field": "t", "type": "quantitative", "scale": {"domain": [0, 1], "nice": false}, "axis": {"values": [0, 0.2, 0.4, 0.6, 0.8, 1], "format": "~g", "title": null}}}},
     {"data": {"name": "force"}, "transform": [{"filter": "datum.m === 'RF'"}], "mark": {"type": "line"},
      "encoding": {
       "x": {"field": "t", "type": "quantitative", "scale": {"domain": [0, 1], "nice": false}, "axis": {"values": [0, 0.2, 0.4, 0.6, 0.8, 1], "format": "~g", "title": null}},
       "y": {"field": "v", "type": "quantitative", "scale": {"domain": [0, 1000], "nice": false}, "axis": {"values": [0, 500, 1000], "format": "d", "title": "RF", "labelPadding": 11, "titlePadding": 14}},
       "color": {"field": "s", "type": "nominal", "scale": {"domain": ["PSO", "SO"], "range": ["#ff0000", "#0000ff"]}, "legend": null},
       "strokeDash": {"field": "s", "type": "nominal", "scale": {"domain": ["PSO", "SO"], "range": [[8, 4], [1, 0]]}, "legend": null},
       "strokeWidth": {"field": "s", "type": "nominal", "scale": {"domain": ["PSO", "SO"], "range": [2.5, 1]}, "legend": null}
      }}
   ]},
   {"width": 365, "height": 58, "layer": [
     {"data": {"name": "ref"}, "mark": {"type": "rule", "color": "black", "strokeWidth": 0.8}, "encoding": {"x": {"field": "t", "type": "quantitative", "scale": {"domain": [0, 1], "nice": false}, "axis": {"values": [0, 0.2, 0.4, 0.6, 0.8, 1], "format": "~g", "title": null}}}},
     {"data": {"name": "force"}, "transform": [{"filter": "datum.m === 'Glu'"}], "mark": {"type": "line"},
      "encoding": {
       "x": {"field": "t", "type": "quantitative", "scale": {"domain": [0, 1], "nice": false}, "axis": {"values": [0, 0.2, 0.4, 0.6, 0.8, 1], "format": "~g", "title": null}},
       "y": {"field": "v", "type": "quantitative", "scale": {"domain": [0, 1000], "nice": false}, "axis": {"values": [0, 500, 1000], "format": "d", "title": "Glu", "labelPadding": 11, "titlePadding": 14}},
       "color": {"field": "s", "type": "nominal", "scale": {"domain": ["PSO", "SO"], "range": ["#ff0000", "#0000ff"]}, "legend": null},
       "strokeDash": {"field": "s", "type": "nominal", "scale": {"domain": ["PSO", "SO"], "range": [[8, 4], [1, 0]]}, "legend": null},
       "strokeWidth": {"field": "s", "type": "nominal", "scale": {"domain": ["PSO", "SO"], "range": [2.5, 1]}, "legend": null}
      }}
   ]},
   {"width": 365, "height": 57, "layer": [
     {"data": {"name": "ref"}, "mark": {"type": "rule", "color": "black", "strokeWidth": 0.8}, "encoding": {"x": {"field": "t", "type": "quantitative", "scale": {"domain": [0, 1], "nice": false}, "axis": {"values": [0, 0.2, 0.4, 0.6, 0.8, 1], "format": "~g", "title": null}}}},
     {"data": {"name": "force"}, "transform": [{"filter": "datum.m === 'BF'"}], "mark": {"type": "line"},
      "encoding": {
       "x": {"field": "t", "type": "quantitative", "scale": {"domain": [0, 1], "nice": false}, "axis": {"values": [0, 0.2, 0.4, 0.6, 0.8, 1], "format": "~g", "title": null}},
       "y": {"field": "v", "type": "quantitative", "scale": {"domain": [0, 1000], "nice": false}, "axis": {"values": [0, 500, 1000], "format": "d", "title": "BF", "labelPadding": 11, "titlePadding": 14}},
       "color": {"field": "s", "type": "nominal", "scale": {"domain": ["PSO", "SO"], "range": ["#ff0000", "#0000ff"]}, "legend": null},
       "strokeDash": {"field": "s", "type": "nominal", "scale": {"domain": ["PSO", "SO"], "range": [[8, 4], [1, 0]]}, "legend": null},
       "strokeWidth": {"field": "s", "type": "nominal", "scale": {"domain": ["PSO", "SO"], "range": [2.5, 1]}, "legend": null}
      }}
   ]},
   {"width": 365, "height": 57, "layer": [
     {"data": {"name": "ref"}, "mark": {"type": "rule", "color": "black", "strokeWidth": 0.8}, "encoding": {"x": {"field": "t", "type": "quantitative", "scale": {"domain": [0, 1], "nice": false}, "axis": {"values": [0, 0.2, 0.4, 0.6, 0.8, 1], "format": "~g", "title": null}}}},
     {"data": {"name": "force"}, "transform": [{"filter": "datum.m === 'Vas'"}], "mark": {"type": "line"},
      "encoding": {
       "x": {"field": "t", "type": "quantitative", "scale": {"domain": [0, 1], "nice": false}, "axis": {"values": [0, 0.2, 0.4, 0.6, 0.8, 1], "format": "~g", "title": null}},
       "y": {"field": "v", "type": "quantitative", "scale": {"domain": [0, 1000], "nice": false}, "axis": {"values": [0, 500, 1000], "format": "d", "title": "Vas", "labelPadding": 11, "titlePadding": 14}},
       "color": {"field": "s", "type": "nominal", "scale": {"domain": ["PSO", "SO"], "range": ["#ff0000", "#0000ff"]}, "legend": null},
       "strokeDash": {"field": "s", "type": "nominal", "scale": {"domain": ["PSO", "SO"], "range": [[8, 4], [1, 0]]}, "legend": null},
       "strokeWidth": {"field": "s", "type": "nominal", "scale": {"domain": ["PSO", "SO"], "range": [2.5, 1]}, "legend": null}
      }}
   ]},
   {"width": 365, "height": 59, "layer": [
     {"data": {"name": "ref"}, "mark": {"type": "rule", "color": "black", "strokeWidth": 0.8}, "encoding": {"x": {"field": "t", "type": "quantitative", "scale": {"domain": [0, 1], "nice": false}, "axis": {"values": [0, 0.2, 0.4, 0.6, 0.8, 1], "format": "~g", "title": null}}}},
     {"data": {"name": "force"}, "transform": [{"filter": "datum.m === 'Gas'"}], "mark": {"type": "line"},
      "encoding": {
       "x": {"field": "t", "type": "quantitative", "scale": {"domain": [0, 1], "nice": false}, "axis": {"values": [0, 0.2, 0.4, 0.6, 0.8, 1], "format": "~g", "title": null}},
       "y": {"field": "v", "type": "quantitative", "scale": {"domain": [0, 1000], "nice": false}, "axis": {"values": [0, 500, 1000], "format": "d", "title": "Gas", "labelPadding": 11, "titlePadding": 14}},
       "color": {"field": "s", "type": "nominal", "scale": {"domain": ["PSO", "SO"], "range": ["#ff0000", "#0000ff"]}, "legend": null},
       "strokeDash": {"field": "s", "type": "nominal", "scale": {"domain": ["PSO", "SO"], "range": [[8, 4], [1, 0]]}, "legend": null},
       "strokeWidth": {"field": "s", "type": "nominal", "scale": {"domain": ["PSO", "SO"], "range": [2.5, 1]}, "legend": null}
      }}
   ]},
   {"width": 365, "height": 52, "layer": [
     {"data": {"name": "ref"}, "mark": {"type": "rule", "color": "black", "strokeWidth": 0.8}, "encoding": {"x": {"field": "t", "type": "quantitative", "scale": {"domain": [0, 1], "nice": false}, "axis": {"values": [0, 0.2, 0.4, 0.6, 0.8, 1], "format": "~g", "title": null}}}},
     {"data": {"name": "force"}, "transform": [{"filter": "datum.m === 'TA'"}], "mark": {"type": "line"},
      "encoding": {
       "x": {"field": "t", "type": "quantitative", "scale": {"domain": [0, 1], "nice": false}, "axis": {"values": [0, 0.2, 0.4, 0.6, 0.8, 1], "format": "~g", "title": null}},
       "y": {"field": "v", "type": "quantitative", "scale": {"domain": [0, 1000], "nice": false}, "axis": {"values": [0, 500, 1000], "format": "d", "title": "TA", "labelPadding": 11, "titlePadding": 14}},
       "color": {"field": "s", "type": "nominal", "scale": {"domain": ["PSO", "SO"], "range": ["#ff0000", "#0000ff"]}, "legend": null},
       "strokeDash": {"field": "s", "type": "nominal", "scale": {"domain": ["PSO", "SO"], "range": [[8, 4], [1, 0]]}, "legend": null},
       "strokeWidth": {"field": "s", "type": "nominal", "scale": {"domain": ["PSO", "SO"], "range": [2.5, 1]}, "legend": null}
      }}
   ]},
   {"width": 365, "height": 46, "layer": [
     {"data": {"name": "ref"}, "mark": {"type": "rule", "color": "black", "strokeWidth": 0.8}, "encoding": {"x": {"field": "t", "type": "quantitative", "scale": {"domain": [0, 1], "nice": false}, "axis": {"values": [0, 0.2, 0.4, 0.6, 0.8, 1], "format": "~g", "title": "Time (s)"}}}},
     {"data": {"name": "force"}, "transform": [{"filter": "datum.m === 'Sol'"}], "mark": {"type": "line"},
      "encoding": {
       "x": {"field": "t", "type": "quantitative", "scale": {"domain": [0, 1], "nice": false}, "axis": {"values": [0, 0.2, 0.4, 0.6, 0.8, 1], "format": "~g", "title": "Time (s)"}},
       "y": {"field": "v", "type": "quantitative", "scale": {"domain": [0, 1000], "nice": false}, "axis": {"values": [0, 500, 1000], "format": "d", "title": "Sol", "labelPadding": 11, "titlePadding": 14}},
       "color": {"field": "s", "type": "nominal", "scale": {"domain": ["PSO", "SO"], "range": ["#ff0000", "#0000ff"]},
         "legend": {"title": null, "orient": "none", "legendX": 74, "legendY": 100, "direction": "horizontal", "strokeColor": "black", "fillColor": "white", "padding": 8, "clipHeight": 16, "symbolType": "stroke", "symbolSize": 2900, "labelFontSize": 16, "labelColor": "black", "labelOffset": 9, "columnPadding": 12}},
       "strokeDash": {"field": "s", "type": "nominal", "scale": {"domain": ["PSO", "SO"], "range": [[8, 4], [1, 0]]},
         "legend": {"title": null, "orient": "none", "legendX": 74, "legendY": 100, "direction": "horizontal", "strokeColor": "black", "fillColor": "white", "padding": 8, "clipHeight": 16, "symbolType": "stroke", "symbolSize": 2900, "labelFontSize": 16, "labelColor": "black", "labelOffset": 9, "columnPadding": 12}},
       "strokeWidth": {"field": "s", "type": "nominal", "scale": {"domain": ["PSO", "SO"], "range": [2.5, 1]},
         "legend": {"title": null, "orient": "none", "legendX": 74, "legendY": 100, "direction": "horizontal", "strokeColor": "black", "fillColor": "white", "padding": 8, "clipHeight": 16, "symbolType": "stroke", "symbolSize": 2900, "labelFontSize": 16, "labelColor": "black", "labelOffset": 9, "columnPadding": 12}}
      }}
   ]},
   {"width": 365, "height": 20, "view": {"stroke": null}, "data": {"name": "evR"}, "mark": {"type": "text", "fontSize": 16, "color": "black", "dy": 73},
    "encoding": {"x": {"field": "t", "type": "quantitative", "scale": {"domain": [0, 1]}, "axis": null}, "text": {"field": "label"}}}
  ]
 }
],
"spacing": 25,
"resolve": {"scale": {"color": "independent", "strokeDash": "independent", "strokeWidth": "independent"}}
}
